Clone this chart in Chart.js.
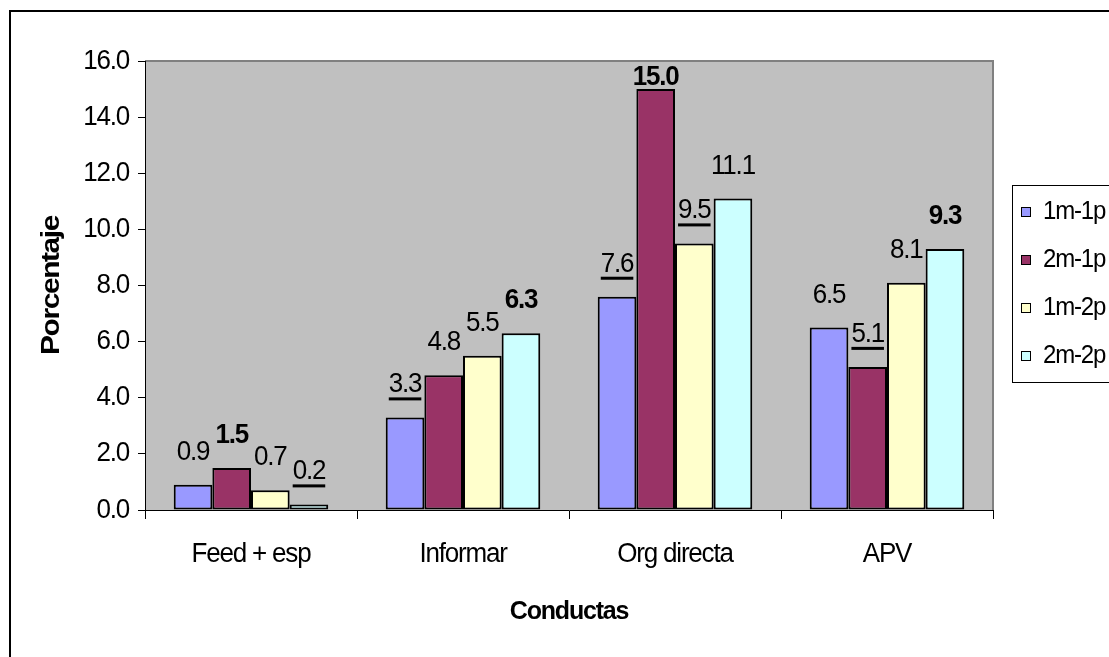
<!DOCTYPE html>
<html>
<head>
<meta charset="utf-8">
<script src="https://cdn.jsdelivr.net/npm/chart.js@4/dist/chart.umd.min.js"></script>
<style>
  html, body { margin: 0; padding: 0; background: #fff; overflow: hidden; }
  #wrap { width: 1109px; height: 657px; position: relative; }
</style>
</head>
<body>
<div id="wrap"><canvas id="chart" width="1109" height="657"></canvas></div>
<script>
// Categories, series and tick values
const categories = ['Feed + esp', 'Informar', 'Org directa', 'APV'];
const seriesNames = ['1m-1p', '2m-1p', '1m-2p', '2m-2p'];
const s1m1p = [0.9, 3.3, 7.6, 6.5];
const s2m1p = [1.5, 4.8, 15.0, 5.1];
const s1m2p = [0.7, 5.5, 9.5, 8.1];
const s2m2p = [0.2, 6.3, 11.1, 9.3];
const yTicks = [0, 2, 4, 6, 8, 10, 12, 14, 16];

// Emphasis of the value labels, per series and category
const boldLabels = [[0, 0, 0, 0], [1, 0, 1, 0], [0, 0, 0, 0], [0, 1, 0, 1]];
const underlinedLabels = [[0, 1, 1, 0], [0, 0, 0, 1], [0, 0, 1, 0], [1, 0, 0, 0]];

const seriesValues = [s1m1p, s2m1p, s1m2p, s2m2p];
const seriesColors = ['#9999FF', '#993366', '#FFFFCC', '#CCFFFF'];
const FONT = "'Liberation Sans', Arial, sans-serif";
const LETTER_SPACING = '-1.2px';   // tight tracking for all text
const TEXT_STRETCH = 1.06;         // slightly tall glyphs
const ROTATED_STRETCH = 1.15;      // vertical axis title runs a little longer

Chart.defaults.font.family = FONT;
Chart.defaults.color = '#000';

// Tight tracking and tall glyphs on every text run
const textStylePlugin = {
  id: 'textStyle',
  beforeInit(chart) {
    const ctx = chart.ctx;
    const fill = ctx.fillText.bind(ctx);
    ctx.fillText = function (text, x, y, maxWidth) {
      const t = ctx.getTransform();
      ctx.save();
      ctx.letterSpacing = LETTER_SPACING;
      ctx.translate(x, y);
      if (Math.abs(t.b) > 0.5) ctx.scale(ROTATED_STRETCH, 1);
      else ctx.scale(1, TEXT_STRETCH);
      if (maxWidth === undefined) fill(text, 0, 0);
      else fill(text, 0, 0, maxWidth);
      ctx.restore();
    };
  }
};

// Gray plot area, plot border and the outer chart frame
const framePlugin = {
  id: 'frame',
  beforeDraw(chart) {
    const { ctx, chartArea: a } = chart;
    ctx.save();
    ctx.fillStyle = '#fff';
    ctx.fillRect(0, 0, chart.width, chart.height);
    ctx.fillStyle = '#C0C0C0';
    ctx.fillRect(a.left, a.top, a.right - a.left, a.bottom - a.top);
    ctx.strokeStyle = '#808080';
    ctx.lineWidth = 2;
    ctx.beginPath();
    ctx.moveTo(a.left, a.top);
    ctx.lineTo(a.right, a.top);
    ctx.lineTo(a.right, a.bottom);
    ctx.stroke();
    ctx.strokeStyle = '#000';
    ctx.lineWidth = 2;
    ctx.strokeRect(10, 11, 1300, 1000);
    ctx.restore();
  }
};

// Value labels above each bar
const valueLabelPlugin = {
  id: 'valueLabels',
  afterDatasetsDraw(chart) {
    const { ctx, chartArea: a } = chart;
    ctx.save();
    ctx.fillStyle = '#000';
    ctx.textAlign = 'center';
    ctx.textBaseline = 'alphabetic';
    chart.data.datasets.forEach((ds, i) => {
      const meta = chart.getDatasetMeta(i);
      meta.data.forEach((bar, j) => {
        const text = ds.data[j].toFixed(1);
        const bold = boldLabels[i][j];
        ctx.font = (bold ? 'bold ' : '') + '26px ' + FONT;
        const base = Math.max(bar.y - 25, a.top + 24);
        ctx.fillText(text, bar.x, base);
        if (underlinedLabels[i][j]) {
          ctx.letterSpacing = LETTER_SPACING;
          const w = ctx.measureText(text).width;
          ctx.fillRect(bar.x - w / 2, base + 5, w, 3);
        }
      });
    });
    ctx.restore();
  }
};

// Legend box on the right
const legendPlugin = {
  id: 'sideLegend',
  afterDraw(chart) {
    const { ctx } = chart;
    ctx.save();
    ctx.strokeStyle = '#000';
    ctx.lineWidth = 1;
    ctx.strokeRect(1012.5, 185.5, 200, 197);
    ctx.font = '24px ' + FONT;
    ctx.textBaseline = 'middle';
    ctx.textAlign = 'left';
    const rows = [212, 260, 308, 356];
    chart.data.datasets.forEach((ds, i) => {
      const y = rows[i];
      ctx.fillStyle = ds.backgroundColor;
      ctx.fillRect(1021, y - 5, 10, 10);
      ctx.strokeRect(1021.5, y - 4.5, 9, 9);
      ctx.fillStyle = '#000';
      ctx.fillText(ds.label, 1043, y);
    });
    ctx.restore();
  }
};

new Chart(document.getElementById('chart'), {
  type: 'bar',
  data: {
    labels: categories,
    datasets: seriesNames.map((name, i) => ({
      label: name,
      data: seriesValues[i],
      backgroundColor: seriesColors[i],
      borderColor: '#000',
      borderWidth: 2,
      borderSkipped: false,
      categoryPercentage: 0.729,
      barPercentage: 1.0
    }))
  },
  options: {
    responsive: false,
    animation: false,
    layout: { padding: { left: 0, top: 61, right: 116, bottom: 0 } },
    plugins: { legend: { display: false }, tooltip: { enabled: false } },
    scales: {
      x: {
        grid: { display: true, drawOnChartArea: false, offset: true, color: '#000', tickLength: 9, lineWidth: 1 },
        border: { display: true, color: '#000', width: 1 },
        ticks: { font: { size: 26 }, padding: 20, color: '#000' },
        title: { display: true, text: 'Conductas', font: { size: 25, weight: 'bold' }, padding: { top: 0, bottom: 30 }, color: '#000' },
        afterFit(scale) { scale.height = 147; }
      },
      y: {
        min: 0,
        max: 16,
        afterBuildTicks(scale) { scale.ticks = yTicks.map(v => ({ value: v })); },
        grid: { display: true, drawOnChartArea: false, color: '#000', tickLength: 7 },
        border: { display: true, color: '#000', width: 1 },
        ticks: { font: { size: 26 }, padding: 9, color: '#000', callback: v => Number(v).toFixed(1) },
        title: { display: true, text: 'Porcentaje', font: { size: 26, weight: 'bold' }, padding: { top: 36 }, color: '#000' },
        afterFit(scale) { scale.width = 145; }
      }
    }
  },
  plugins: [textStylePlugin, framePlugin, valueLabelPlugin, legendPlugin]
});
</script>
</body>
</html>
